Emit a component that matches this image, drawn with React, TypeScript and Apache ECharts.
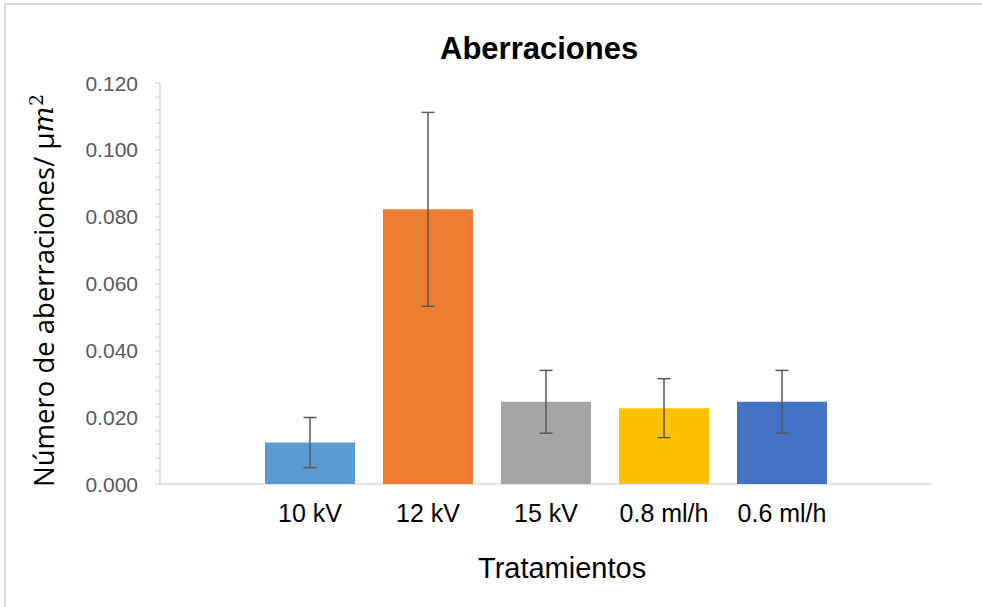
import React, { useEffect, useRef } from "react";
import * as echarts from "echarts";

const categories = ["10 kV", "12 kV", "15 kV", "0.8 ml/h", "0.6 ml/h"];
const means = [0.0124, 0.0822, 0.0246, 0.0227, 0.0246];
const errors = [0.0075, 0.029, 0.0094, 0.0088, 0.0094];
const barColors = ["#5B9BD5", "#ED7D31", "#A5A5A5", "#FFC000", "#4472C4"];
const yMin = 0;
const yMax = 0.12;
const yInterval = 0.02;

export default function App() {
  const ref = useRef<HTMLDivElement>(null);

  useEffect(() => {
    if (!ref.current) return;
    const chart = echarts.init(ref.current, null, { renderer: "svg" });

    const errData = means.map((m, i) => [i, m - errors[i], m + errors[i]]);

    const option: any = {
      animation: false,
      backgroundColor: "#ffffff",
      title: {
        text: "Aberraciones",
        left: 435,
        top: 28,
        textStyle: {
          fontFamily: "Liberation Sans",
          fontWeight: "bold",
          fontSize: 31,
          color: "#000000",
        },
      },
      graphic: [
        {
          type: "rect",
          shape: { x: 5, y: 4, width: 1200, height: 1200 },
          style: { fill: "none", stroke: "#d9d9d9", lineWidth: 2 },
          silent: true,
        },
        {
          type: "text",
          left: 478,
          top: 553,
          style: {
            text: "Tratamientos",
            fontFamily: "Liberation Sans",
            fontSize: 29,
            fill: "#000000",
          },
        },
      ],
      grid: [
        { left: 160, top: 83, width: 771, bottom: 123 },
        { left: 251, top: 83, width: 590, bottom: 123 },
      ],
      xAxis: [
        {
          type: "value",
          gridIndex: 0,
          min: 0,
          max: 1,
          axisLine: { show: true, onZero: false, lineStyle: { color: "#d9d9d9", width: 1.5 } },
          axisTick: { show: false },
          axisLabel: { show: false },
          splitLine: { show: false },
        },
        {
          type: "category",
          gridIndex: 1,
          data: categories,
          axisLine: { show: false },
          axisTick: { show: false },
          axisLabel: {
            fontFamily: "Liberation Sans",
            fontSize: 25,
            color: "#000000",
            margin: 16,
          },
        },
      ],
      yAxis: [
        {
          type: "value",
          gridIndex: 0,
          min: yMin,
          max: yMax,
          interval: yInterval,
          name: "{t|Número de aberraciones/ μ}{m|m}{s|2}",
          nameLocation: "middle",
          nameGap: 99,
          nameRotate: 90,
          nameTextStyle: {
            padding: [0, 14, 0, 0],
            rich: {
              t: { fontFamily: "Open Sans", fontSize: 27.5, color: "#000000" },
              m: { fontFamily: "DejaVu Serif", fontStyle: "italic", fontSize: 28, color: "#000000" },
              s: { fontFamily: "DejaVu Serif", fontSize: 19, color: "#000000", padding: [0, 0, 16, 0] },
            },
          },
          axisLine: { show: true, lineStyle: { color: "#d9d9d9", width: 1.5 } },
          axisTick: { show: true, inside: false, length: 5, lineStyle: { color: "#d9d9d9", width: 1.5 } },
          minorTick: { show: true, splitNumber: 5, length: 4, lineStyle: { color: "#d9d9d9", width: 1.5 } },
          axisLabel: {
            fontFamily: "Liberation Sans",
            fontSize: 21,
            color: "#595959",
            margin: 22,
            formatter: (v: number) => v.toFixed(3),
          },
          splitLine: { show: false },
        },
        {
          type: "value",
          gridIndex: 1,
          min: yMin,
          max: yMax,
          interval: yInterval,
          show: false,
          splitLine: { show: false },
        },
      ],
      series: [
        {
          type: "bar",
          xAxisIndex: 1,
          yAxisIndex: 1,
          barWidth: 90,
          data: means.map((v, i) => ({ value: v, itemStyle: { color: barColors[i] } })),
          z: 2,
        },
        {
          type: "custom",
          xAxisIndex: 1,
          yAxisIndex: 1,
          z: 5,
          data: errData,
          renderItem: (params: any, api: any) => {
            const x = api.value(0);
            const lo = api.coord([x, api.value(1)]);
            const hi = api.coord([x, api.value(2)]);
            const half = 6.5;
            const style = { stroke: "#595959", lineWidth: 1.5 };
            return {
              type: "group",
              children: [
                { type: "line", shape: { x1: lo[0], y1: lo[1], x2: hi[0], y2: hi[1] }, style },
                { type: "line", shape: { x1: lo[0] - half, y1: lo[1], x2: lo[0] + half, y2: lo[1] }, style },
                { type: "line", shape: { x1: hi[0] - half, y1: hi[1], x2: hi[0] + half, y2: hi[1] }, style },
              ],
            };
          },
        },
      ],
    };

    chart.setOption(option);
    return () => chart.dispose();
  }, []);

  return (
    <div
      ref={ref}
      style={{ position: "fixed", left: 0, top: 0, width: 982, height: 607 }}
    />
  );
}
